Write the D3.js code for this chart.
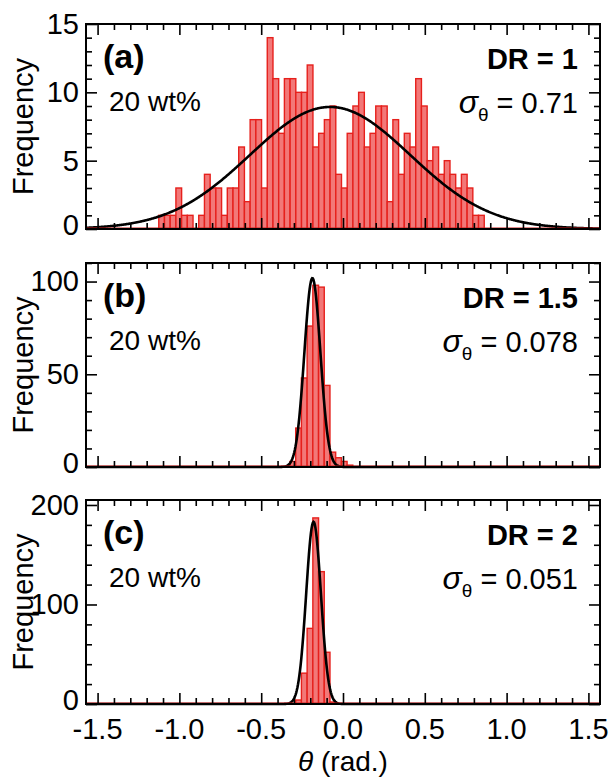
<!DOCTYPE html>
<html>
<head>
<meta charset="utf-8">
<script src="https://cdn.jsdelivr.net/npm/d3@7"></script>
<style>
  html, body { margin: 0; padding: 0; background: #fff; }
  svg { display: block; font-family: "Liberation Sans", Arial, sans-serif; }
</style>
</head>
<body>
<svg id="chart" width="610" height="781"></svg>
<script>
// ---------------- data ----------------
const binWidth = 0.0349;             // 2 degree bins (rad.)
const xTicks = [-1.5, -1.0, -0.5, 0.0, 0.5, 1.0, 1.5];

// panel (a) DR = 1
const startA = -1.126;
const countsA = [1,1,1,3,1,1,0,1,4,3,3,1,3,3,6,2,8,8,3,14,11,7,11,11,10,10,
                 12,6,7,8,9,4,3,7,9,10,6,7,9,9,2,8,4,7,6,11,9,5,6,4,5,4,3,4,3,1,1];
// panel (b) DR = 1.5
const startB = -0.324;
const countsB = [3,21,48,76,98,97,44,8,5,3,1];
// panel (c) DR = 2
const startC = -0.289;
const countsC = [4,31,76,187,133,52,2];

// Gaussian fit parameters: [mean, sd, peak]
const fitA = [-0.079, 0.49, 8.93];
const fitB = [-0.187, 0.049, 101.8];
const fitC = [-0.180, 0.045, 183];

const panelLetters = ["(a)", "(b)", "(c)"];
const drLabels = ["DR = 1", "DR = 1.5", "DR = 2"];
const sigmaValues = ["0.71", "0.078", "0.051"];
const concLabel = "20 wt%";
const yTicksA = [0, 5, 10, 15];
const yTicksB = [0, 50, 100];
const yTicksC = [0, 100, 200];

// ---------------- layout ----------------
const svg = d3.select("#chart");
const left = 86, right = 600;
const x = d3.scaleLinear().domain([-Math.PI / 2, Math.PI / 2]).range([left, right]);

const panels = [
  { top: 24,  bottom: 229, ymax: 15,  yTicks: yTicksA, minorStep: 1,  start: startA, counts: countsA, fit: fitA },
  { top: 263, bottom: 467, ymax: 110, yTicks: yTicksB, minorStep: 10, start: startB, counts: countsB, fit: fitB },
  { top: 500, bottom: 704, ymax: 205, yTicks: yTicksC, minorStep: 20, start: startC, counts: countsC, fit: fitC }
];

const FS = 29;
const majorLen = 11, minorLen = 6;
const minorX = d3.range(-15, 16).map(d => d / 10).filter(d => Math.abs(d * 10 % 5) > 1e-9);

panels.forEach((p, i) => {
  const y = d3.scaleLinear().domain([0, p.ymax]).range([p.bottom, p.top]);
  const g = svg.append("g");

  // bars
  const bins = p.counts.map((c, k) => ({ x0: p.start + k * binWidth, x1: p.start + (k + 1) * binWidth, c }));
  g.selectAll("rect.bar").data(bins.filter(b => b.c > 0)).join("rect")
    .attr("class", "bar")
    .attr("x", b => x(b.x0))
    .attr("width", b => x(b.x1) - x(b.x0))
    .attr("y", b => y(b.c))
    .attr("height", b => y(0) - y(b.c))
    .attr("fill", "#f27878")
    .attr("stroke", "#e6201c")
    .attr("stroke-width", 1.4);

  // fit curve
  const [mu, sd, amp] = p.fit;
  const xs = d3.range(0, 801).map(j => -Math.PI / 2 + j * Math.PI / 800);
  const line = d3.line().x(v => x(v)).y(v => y(amp * Math.exp(-((v - mu) ** 2) / (2 * sd * sd))));
  g.append("path").datum(xs).attr("d", line)
    .attr("fill", "none").attr("stroke", "#000").attr("stroke-width", 2.6);

  // baseline (red zero-height bins)
  g.append("line").attr("x1", left).attr("x2", right)
    .attr("y1", y(0) - 1).attr("y2", y(0) - 1)
    .attr("stroke", "#c81a1a").attr("stroke-width", 1.2);

  // frame
  g.append("rect").attr("x", left).attr("y", p.top)
    .attr("width", right - left).attr("height", p.bottom - p.top)
    .attr("fill", "none").attr("stroke", "#000").attr("stroke-width", 2);

  // x ticks (inward, top and bottom)
  const xAxB = d3.axisBottom(x).tickValues(xTicks).tickSize(-majorLen).tickFormat("");
  const xAxBm = d3.axisBottom(x).tickValues(minorX).tickSize(-minorLen).tickFormat("");
  const xAxT = d3.axisTop(x).tickValues(xTicks).tickSize(-majorLen).tickFormat("");
  const xAxTm = d3.axisTop(x).tickValues(minorX).tickSize(-minorLen).tickFormat("");
  [[xAxB, p.bottom], [xAxBm, p.bottom], [xAxT, p.top], [xAxTm, p.top]].forEach(([ax, ty]) => {
    const a = g.append("g").attr("transform", `translate(0,${ty})`).call(ax);
    a.select(".domain").remove();
    a.selectAll("line").attr("stroke", "#000").attr("stroke-width", 1.6);
  });

  // y ticks (inward, left and right)
  const minorY = d3.range(0, p.ymax + 1e-9, p.minorStep).filter(v => !p.yTicks.includes(v));
  const yAxL = d3.axisLeft(y).tickValues(p.yTicks).tickSize(-majorLen).tickFormat("");
  const yAxLm = d3.axisLeft(y).tickValues(minorY).tickSize(-minorLen).tickFormat("");
  const yAxR = d3.axisRight(y).tickValues(p.yTicks).tickSize(-majorLen).tickFormat("");
  const yAxRm = d3.axisRight(y).tickValues(minorY).tickSize(-minorLen).tickFormat("");
  [[yAxL, left], [yAxLm, left], [yAxR, right], [yAxRm, right]].forEach(([ax, tx]) => {
    const a = g.append("g").attr("transform", `translate(${tx},0)`).call(ax);
    a.select(".domain").remove();
    a.selectAll("line").attr("stroke", "#000").attr("stroke-width", 1.6);
  });

  // y tick labels
  g.selectAll("text.ytl").data(p.yTicks).join("text")
    .attr("class", "ytl")
    .attr("x", 79).attr("y", v => y(v)).attr("dy", v => v === 0 ? "0.22em" : "0.34em")
    .attr("text-anchor", "end").attr("font-size", FS).attr("fill", "#000")
    .text(v => v);

  // y label
  g.append("text")
    .attr("transform", `translate(33,${(p.top + p.bottom) / 2}) rotate(-90)`)
    .attr("text-anchor", "middle").attr("font-size", 29).attr("fill", "#000")
    .text("Frequency");

  // annotations
  g.append("text").attr("x", 103).attr("y", p.top + 44)
    .attr("font-size", 34).attr("font-weight", "bold").text(panelLetters[i]);
  g.append("text").attr("x", 109).attr("y", p.top + 87)
    .attr("font-size", 28).text(concLabel);
  g.append("text").attr("x", 578).attr("y", p.top + 45)
    .attr("text-anchor", "end")
    .attr("font-size", 29).attr("font-weight", "bold").text(drLabels[i]);
  const st = g.append("text").attr("x", 578).attr("y", p.top + 89)
    .attr("text-anchor", "end").attr("font-size", 29);
  st.append("tspan").attr("font-style", "italic").attr("font-size", 32).text("σ");
  st.append("tspan").attr("font-size", 19).attr("dy", 8).text("θ");
  st.append("tspan").attr("dy", -8).text(" = " + sigmaValues[i]);
});

// x tick labels under last panel
svg.selectAll("text.xtl").data(xTicks).join("text")
  .attr("class", "xtl")
  .attr("x", v => x(v)).attr("y", 739)
  .attr("text-anchor", "middle").attr("font-size", FS).attr("fill", "#000")
  .text(v => (v < 0 ? "-" : "") + Math.abs(v).toFixed(1));

// x label
const xl = svg.append("text").attr("x", 343).attr("y", 771)
  .attr("text-anchor", "middle").attr("font-size", 28);
xl.append("tspan").attr("font-style", "italic").text("θ");
xl.append("tspan").text(" (rad.)");
</script>
</body>
</html>
